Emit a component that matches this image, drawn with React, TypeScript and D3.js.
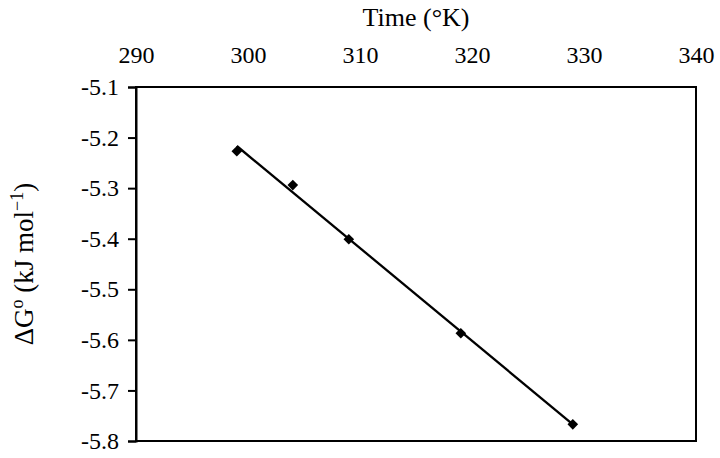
import React, { useRef, useEffect } from 'react';
import * as d3 from 'd3';

// Temperature (K) and Gibbs free energy (kJ/mol)
const temps = [299, 304, 309, 319, 329];
const deltaG = [-5.227, -5.294, -5.401, -5.587, -5.767];
const xTicks = [290, 300, 310, 320, 330, 340];
const yTicks = [-5.1, -5.2, -5.3, -5.4, -5.5, -5.6, -5.7, -5.8];

const W = 720;
const H = 458;

export default function App() {
  const ref = useRef<SVGSVGElement>(null);

  useEffect(() => {
    const margin = { top: 87, right: 24, bottom: 17, left: 136 };
    const svg = d3.select(ref.current);
    svg.selectAll('*').remove();

    const font = '"Liberation Serif", "DejaVu Serif", serif';

    const x = d3.scaleLinear().domain([290, 340]).range([margin.left, W - margin.right]);
    const y = d3.scaleLinear().domain([-5.1, -5.8]).range([margin.top, H - margin.bottom]);

    // plot area border
    svg.append('rect')
      .attr('x', x(290))
      .attr('y', y(-5.1))
      .attr('width', x(340) - x(290))
      .attr('height', y(-5.8) - y(-5.1))
      .attr('fill', 'none')
      .attr('stroke', '#000')
      .attr('stroke-width', 2);

    // left axis
    const yAxis = svg.append('g')
      .attr('transform', `translate(${x(290)},0)`)
      .call(d3.axisLeft(y).tickValues(yTicks).tickSize(8).tickPadding(9).tickFormat(d => (+d).toFixed(1)));
    yAxis.select('.domain').attr('stroke-width', 2);
    yAxis.selectAll('.tick line').attr('stroke-width', 2);
    yAxis.selectAll('text')
      .attr('font-family', font)
      .attr('font-size', 24)
      .attr('fill', '#000');

    // top axis (labels only)
    const xAxis = svg.append('g')
      .attr('transform', `translate(0,${y(-5.1)})`)
      .call(d3.axisTop(x).tickValues(xTicks).tickSize(0).tickPadding(24).tickFormat(d => String(d)));
    xAxis.select('.domain').remove();
    xAxis.selectAll('text')
      .attr('font-family', font)
      .attr('font-size', 24)
      .attr('fill', '#000');

    // linear trend line
    const mx = d3.mean(temps)!;
    const my = d3.mean(deltaG)!;
    const sxy = d3.sum(temps, (t, i) => (t - mx) * (deltaG[i] - my));
    const sxx = d3.sum(temps, t => (t - mx) ** 2);
    const slope = sxy / sxx;
    const icpt = my - slope * mx;
    const x0 = d3.min(temps)!;
    const x1 = d3.max(temps)!;
    svg.append('line')
      .attr('x1', x(x0))
      .attr('y1', y(icpt + slope * x0))
      .attr('x2', x(x1))
      .attr('y2', y(icpt + slope * x1))
      .attr('stroke', '#000')
      .attr('stroke-width', 2.3);

    // diamond markers
    const sym = d3.symbol().type(d3.symbolDiamond2).size(72);
    svg.append('g')
      .selectAll('path')
      .data(temps.map((t, i) => [t, deltaG[i]]))
      .join('path')
      .attr('d', sym)
      .attr('transform', d => `translate(${x(d[0])},${y(d[1])})`)
      .attr('fill', '#000');

    // axis titles
    svg.append('text')
      .attr('x', (x(290) + x(340)) / 2)
      .attr('y', 26)
      .attr('text-anchor', 'middle')
      .attr('font-family', font)
      .attr('font-size', 26)
      .text('Time (°K)');

    const yl = svg.append('text')
      .attr('transform', `translate(33,${(y(-5.1) + y(-5.8)) / 2}) rotate(-90)`)
      .attr('text-anchor', 'middle')
      .attr('font-family', font)
      .attr('font-size', 27);
    yl.append('tspan').text('ΔG');
    yl.append('tspan').attr('dy', -10).attr('font-size', 18).text('o');
    yl.append('tspan').attr('dy', 10).text(' (kJ mol');
    yl.append('tspan').attr('dy', -10).attr('font-size', 18).text('−1');
    yl.append('tspan').attr('dy', 10).text(')');
  }, []);

  return (
    <svg
      ref={ref}
      width={W}
      height={H}
      style={{ position: 'absolute', left: 0, top: 0, background: '#fff' }}
    />
  );
}
